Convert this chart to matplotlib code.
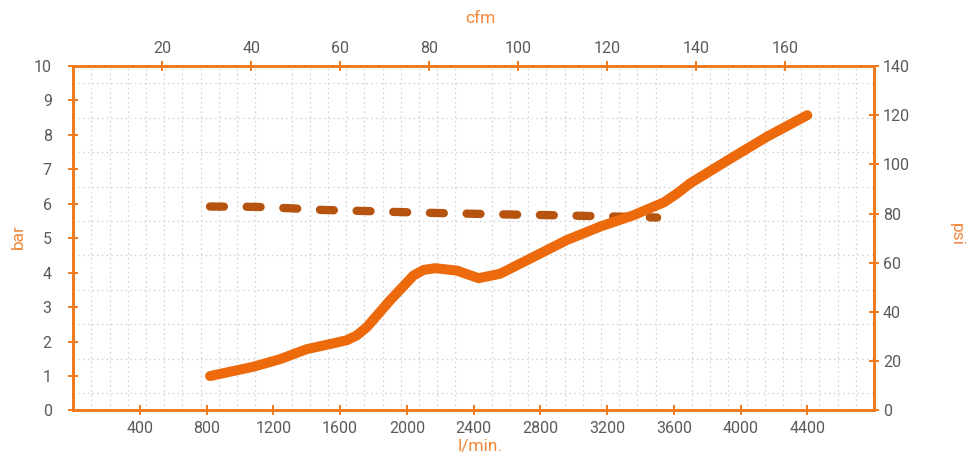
import numpy as np
import matplotlib
matplotlib.use('Agg')
import matplotlib.pyplot as plt

###############
# data (x in l/min, y in bar)
flow_solid = [820, 1080, 1240, 1400, 1560, 1640, 1700, 1760, 1900, 2040, 2100, 2170,
              2300, 2430, 2560, 2760, 2960, 3160, 3360, 3540, 3620, 3700, 3960, 4160, 4400]
bar_solid = [1.0, 1.27, 1.49, 1.78, 1.95, 2.04, 2.18, 2.42, 3.2, 3.92, 4.08, 4.13,
             4.06, 3.84, 3.97, 4.46, 4.95, 5.34, 5.67, 6.04, 6.3, 6.6, 7.37, 7.95, 8.57]

flow_dash = [820, 1100, 1300, 1500, 1750, 1950, 2200, 2400, 2600, 2850, 3050, 3250, 3500]
bar_dash = [5.92, 5.91, 5.87, 5.82, 5.79, 5.76, 5.73, 5.71, 5.69, 5.67, 5.65, 5.63, 5.60]

xticks = [400, 800, 1200, 1600, 2000, 2400, 2800, 3200, 3600, 4000, 4400]
cfm_ticks = [20, 40, 60, 80, 100, 120, 140, 160]
bar_ticks = [0, 1, 2, 3, 4, 5, 6, 7, 8, 9, 10]
psi_ticks = [0, 20, 40, 60, 80, 100, 120, 140]
###############

orange = '#f07a1e'
label_orange = '#f2873a'
gray = '#5a5a5a'

plt.rcParams['font.family'] = ['Roboto', 'DejaVu Sans']
plt.rcParams['lines.scale_dashes'] = False

fig = plt.figure(figsize=[9.7, 4.62], dpi=100)
ax = fig.add_axes([0.0755, 0.1115, 0.8255, 0.7457])

#grid (44 x 20 cells)
ax.set_xticks(np.linspace(0, 4800, 45), minor=True)
ax.set_yticks(np.arange(0, 10.01, 0.5), minor=True)
ax.grid(which='minor', color='#d4d4d4', linestyle=(0, (1.2, 2.2)), linewidth=0.9)
ax.tick_params(which='minor', length=0)

#curves
ax.plot(flow_solid, bar_solid, color='#ec6a0c', linewidth=7.2,
        solid_capstyle='round', solid_joinstyle='round', zorder=5)
ax.plot(flow_dash, bar_dash, color='#b5530f', linewidth=6.0,
        dashes=(10.0, 16.4), dash_capstyle='round', zorder=4)

ax.set_xlim(0, 4800)
ax.set_ylim(0, 10)
ax.set_xticks(xticks)
ax.set_yticks(bar_ticks)

for s in ax.spines.values():
    s.set_color(orange)
    s.set_linewidth(1.8)

ax.tick_params(which='major', direction='inout', length=7, width=1.4, color=orange,
               labelcolor=gray, labelsize=11.5)
ax.tick_params(axis='x', pad=4)
ax.tick_params(axis='y', pad=12)

ax.set_xlabel('l/min.', color=label_orange, fontsize=12.5)
ax.xaxis.set_label_coords(0.508, -0.105)
ax.xaxis.label.set_va('center')
ax.set_ylabel('bar', color=label_orange, fontsize=12.5)
ax.yaxis.set_label_coords(-0.069, 0.505)
ax.yaxis.label.set_va('center')

#top axis cfm
axt = ax.twiny()
axt.set_xlim(0, 180)
axt.set_xticks(cfm_ticks)
axt.tick_params(direction='inout', length=7, width=1.4, color=orange,
                labelcolor=gray, labelsize=11.5, pad=4)
axt.set_xlabel('cfm', color=label_orange, fontsize=12.5)
axt.xaxis.set_label_coords(0.508, 1.139)
axt.xaxis.label.set_va('center')

#right axis psi
axr = ax.twinx()
axr.set_ylim(0, 140)
axr.set_yticks(psi_ticks)
axr.tick_params(direction='inout', length=7, width=1.4, color=orange,
                labelcolor=gray, labelsize=11.5, pad=3)
axr.set_ylabel('psi', color=label_orange, fontsize=12.5, rotation=270)
axr.yaxis.set_label_coords(1.103, 0.51)
axr.yaxis.label.set_va('center')

for a in [axt, axr]:
    for s in a.spines.values():
        s.set_color(orange)
        s.set_linewidth(1.8)

fig.savefig('out.png', dpi=100)
